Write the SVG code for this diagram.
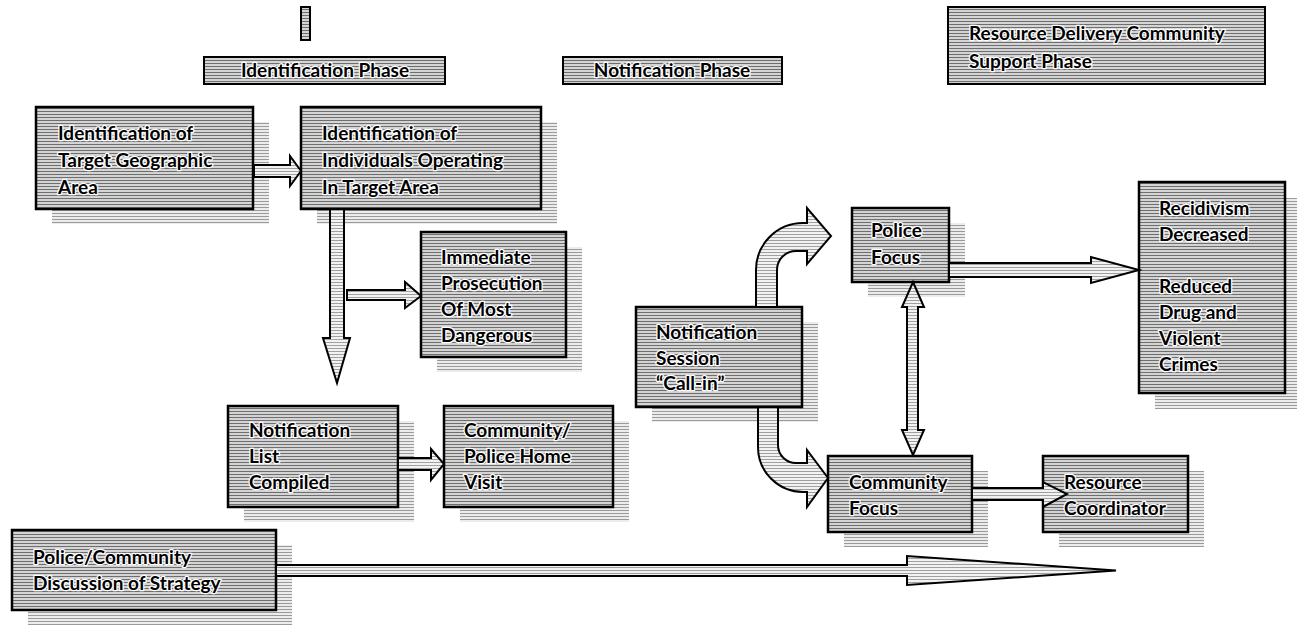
<svg xmlns="http://www.w3.org/2000/svg" width="1297" height="625" viewBox="0 0 1297 625">
<defs>
<pattern id="hatch" width="4" height="3" patternUnits="userSpaceOnUse"><rect width="4" height="3" fill="#d4d4d4"/><rect width="4" height="1" fill="#6e6e6e"/></pattern>
<pattern id="hatchS" width="4" height="3" patternUnits="userSpaceOnUse"><rect width="4" height="3" fill="#ececec"/><rect width="4" height="1" fill="#9a9a9a"/></pattern>
<pattern id="hatchA" width="4" height="3" patternUnits="userSpaceOnUse"><rect width="4" height="3" fill="#f2f2f2"/><rect width="4" height="1" fill="#a0a0a0"/></pattern>
</defs>
<style>
.box{fill:url(#hatch);stroke:#000;stroke-width:2.5}
.lbl{fill:url(#hatch);stroke:#000;stroke-width:2}
.sh{fill:url(#hatchS)}
.t{font-family:Lato,"Liberation Sans",sans-serif;font-weight:bold;font-size:19px;fill:#000;stroke:#fff;stroke-width:2.5;stroke-linejoin:round;paint-order:stroke}
.c{text-anchor:middle}
.arr{fill:url(#hatchA);stroke:#000;stroke-width:2;stroke-linejoin:miter}
</style>

<g id="tiny"><rect class="lbl" x="301" y="7" width="9" height="33"/></g>

<g id="phase-identification">
<rect class="lbl" x="204" y="57" width="241" height="27"/>
<text class="t c" x="325" y="77">Identification Phase</text>
</g>
<g id="phase-notification">
<rect class="lbl" x="563" y="57" width="219" height="27"/>
<text class="t c" x="672" y="77">Notification Phase</text>
</g>
<g id="phase-resource">
<rect class="lbl" x="948" y="7" width="317" height="77"/>
<text class="t" x="969" y="40">Resource Delivery Community</text>
<text class="t" x="969" y="68">Support Phase</text>
</g>

<g id="n-target-area">
<rect class="sh" x="52" y="122" width="217" height="102"/>
<rect class="box" x="36" y="107" width="217" height="102"/>
<text class="t" x="58" y="140">Identification of</text>
<text class="t" x="58" y="167">Target Geographic</text>
<text class="t" x="58" y="194">Area</text>
</g>
<g id="n-individuals">
<rect class="sh" x="317" y="122" width="240" height="102"/>
<rect class="box" x="301" y="107" width="240" height="102"/>
<text class="t" x="322" y="140">Identification of</text>
<text class="t" x="322" y="167">Individuals Operating</text>
<text class="t" x="322" y="194">In Target Area</text>
</g>
<g id="n-prosecution">
<rect class="sh" x="437" y="247" width="145" height="125"/>
<rect class="box" x="421" y="232" width="145" height="125"/>
<text class="t" x="441" y="264">Immediate</text>
<text class="t" x="441" y="290">Prosecution</text>
<text class="t" x="441" y="316">Of Most</text>
<text class="t" x="441" y="342">Dangerous</text>
</g>
<g id="n-notification-list">
<rect class="sh" x="244" y="421" width="170" height="101"/>
<rect class="box" x="228" y="406" width="170" height="101"/>
<text class="t" x="249" y="437">Notification</text>
<text class="t" x="249" y="463">List</text>
<text class="t" x="249" y="489">Compiled</text>
</g>
<g id="n-home-visit">
<rect class="sh" x="460" y="421" width="169" height="101"/>
<rect class="box" x="444" y="406" width="169" height="101"/>
<text class="t" x="464" y="437">Community/</text>
<text class="t" x="464" y="463">Police Home</text>
<text class="t" x="464" y="489">Visit</text>
</g>
<g id="n-strategy">
<rect class="sh" x="28" y="545" width="264" height="80"/>
<rect class="box" x="12" y="530" width="264" height="80"/>
<text class="t" x="33" y="564">Police/Community</text>
<text class="t" x="33" y="590">Discussion of Strategy</text>
</g>
<g id="n-session">
<rect class="sh" x="652" y="322" width="166" height="100"/>
<rect class="box" x="636" y="307" width="166" height="100"/>
<text class="t" x="656" y="339">Notification</text>
<text class="t" x="656" y="365">Session</text>
<text class="t" x="656" y="390">“Call-in”</text>
</g>
<g id="n-police-focus">
<rect class="sh" x="868" y="223" width="97" height="74"/>
<rect class="box" x="852" y="208" width="97" height="74"/>
<text class="t" x="871" y="237">Police</text>
<text class="t" x="871" y="264">Focus</text>
</g>
<g id="n-recidivism">
<rect class="sh" x="1155" y="198" width="146" height="211"/>
<rect class="box" x="1139" y="182" width="146" height="211"/>
<text class="t" x="1159" y="215">Recidivism</text>
<text class="t" x="1159" y="241">Decreased</text>
<text class="t" x="1159" y="293">Reduced</text>
<text class="t" x="1159" y="319">Drug and</text>
<text class="t" x="1159" y="345">Violent</text>
<text class="t" x="1159" y="371">Crimes</text>
</g>
<g id="n-community-focus">
<rect class="sh" x="844" y="471" width="144" height="76"/>
<rect class="box" x="828" y="456" width="144" height="76"/>
<text class="t" x="849" y="489">Community</text>
<text class="t" x="849" y="515">Focus</text>
</g>
<g id="n-resource-coordinator">
<rect class="sh" x="1059" y="471" width="145" height="76"/>
<rect class="box" x="1043" y="456" width="145" height="76"/>
<text class="t" x="1064" y="489">Resource</text>
<text class="t" x="1064" y="515">Coordinator</text>
</g>

<g id="connectors">
<path class="arr" d="M254,165 L290,165 L290,156 L301,171 L290,186 L290,177 L254,177 Z"/>
<path class="arr" d="M330,209 L344,209 L344,338 L350,338 L337,383 L323,338 L330,338 Z"/>
<path class="arr" d="M347,290 L405,290 L405,282 L421,296 L405,308 L405,300 L347,300 Z"/>
<path class="arr" d="M398,458 L431,458 L431,449 L444,464 L431,480 L431,470 L398,470 Z"/>
<path class="arr" d="M276,565 L907,565 L907,556 L1116,570.5 L907,585 L907,576 L276,576 Z"/>
<path class="arr" d="M756,307 L756,270 A47,47 0 0 1 803,223 L807,223 L807,208 L831,236 L807,264 L807,251 L796,251 A19,19 0 0 0 777,270 L777,307 Z"/>
<path class="arr" d="M758,407 L758,447 A45,45 0 0 0 803,492 L807,492 L807,507 L828,478 L807,450 L807,463 L796,463 A18,18 0 0 1 778,445 L778,407 Z"/>
<path class="arr" d="M913,282 L924,307 L918,307 L918,430 L924,430 L913,455 L902,430 L907,430 L907,307 L902,307 Z"/>
<path class="arr" d="M949,263 L1091,263 L1091,257 L1139,270 L1091,283 L1091,277 L949,277 Z"/>
<path class="arr" d="M972,488 L1043,488 L1043,482 L1067,494 L1043,507 L1043,500 L972,500 Z"/>
</g>
</svg>
